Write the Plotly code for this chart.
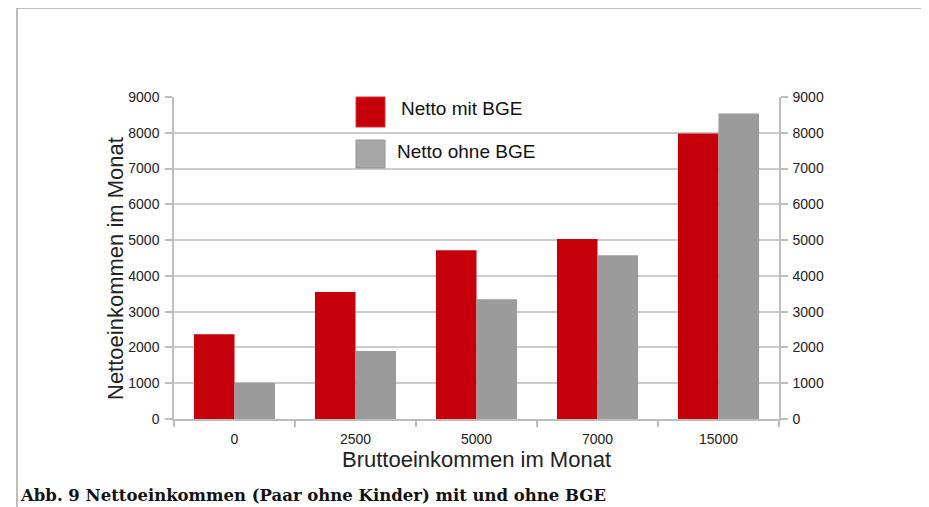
import plotly.graph_objects as go

categories = ["0", "2500", "5000", "7000", "15000"]
netto_mit_bge = [2370, 3550, 4720, 5030, 7980]
netto_ohne_bge = [1010, 1900, 3350, 4580, 8540]
y_ticks = [0, 1000, 2000, 3000, 4000, 5000, 6000, 7000, 8000, 9000]

RED = "#c5000b"
GRAY = "#9b9b9b"

OFF = 8  # page body margin
W, H = 929, 507
L, R, T, B = 174, 779, 97, 419  # plot area in screenshot pixels


def px(x):
    return (x - L) / (R - L)


def py(y):
    return (B - y) / (B - T)


fig = go.Figure()
fig.add_trace(go.Bar(x=categories, y=netto_mit_bge, name="Netto mit BGE",
                     marker=dict(color=RED, line=dict(width=0))))
fig.add_trace(go.Bar(x=categories, y=netto_ohne_bge, name="Netto ohne BGE",
                     marker=dict(color=GRAY, line=dict(width=0))))

tickfont = dict(family="Liberation Sans, Arial, sans-serif", size=14, color="#222222")
titlefont = dict(family="Liberation Sans, Arial, sans-serif", size=22, color="#222222")

fig.update_layout(
    width=W, height=H,
    margin=dict(l=L - OFF, r=W - R + OFF, t=T - OFF, b=H - B + OFF, pad=0),
    paper_bgcolor="white", plot_bgcolor="white",
    barmode="group", bargap=0.33, bargroupgap=0,
    showlegend=False,
    xaxis=dict(
        type="category", tickson="boundaries", ticks="outside", ticklen=6,
        tickcolor="#bdbdbd", tickwidth=1.5,
        showline=True, linecolor="#bdbdbd", linewidth=1.5,
        showgrid=False, tickfont=tickfont, ticklabelstandoff=6,
        title=dict(text="Bruttoeinkommen im Monat", standoff=4, font=titlefont),
    ),
    yaxis=dict(
        range=[0, 9000], tickvals=y_ticks, ticks="outside", ticklen=7,
        tickcolor="#bdbdbd", tickwidth=1.5,
        showline=True, linecolor="#bdbdbd", linewidth=1.5,
        showgrid=True, gridcolor="#cccccc", gridwidth=1.5,
        zeroline=False, tickfont=tickfont, ticklabelstandoff=3,
    ),
    yaxis2=dict(
        range=[0, 9000], tickvals=y_ticks, overlaying="y", side="right",
        ticks="outside", ticklen=7, tickcolor="#bdbdbd", tickwidth=1.5,
        showline=True, linecolor="#bdbdbd", linewidth=1.5,
        showgrid=False, zeroline=False, tickfont=tickfont, ticklabelstandoff=2,
    ),
)

# invisible trace to carry the right axis
fig.add_trace(go.Scatter(x=categories, y=netto_mit_bge, yaxis="y2", mode="markers",
                         marker=dict(opacity=0), hoverinfo="skip", showlegend=False))

# y axis title (slightly off-centre as in the original)
fig.add_annotation(xref="paper", yref="paper", x=px(115), y=py(269), text="Nettoeinkommen im Monat",
                   textangle=-90, showarrow=False, xanchor="center", yanchor="middle", font=titlefont)

# frame
fig.add_shape(type="line", xref="paper", yref="paper", x0=px(17), x1=px(945), y0=py(8), y1=py(8),
              line=dict(color="#a8a8a8", width=1.5))
fig.add_shape(type="line", xref="paper", yref="paper", x0=px(17), x1=px(17), y0=py(8), y1=py(520),
              line=dict(color="#a8a8a8", width=1.5))

# custom legend
fig.add_shape(type="rect", xref="paper", yref="paper", x0=px(356), x1=px(385), y0=py(127), y1=py(97),
              fillcolor=RED, line=dict(color="#e0303a", width=1))
fig.add_shape(type="rect", xref="paper", yref="paper", x0=px(356), x1=px(385), y0=py(168), y1=py(140),
              fillcolor="#a6a6a6", line=dict(color="#959595", width=1))
legfont = dict(family="Liberation Sans, Arial, sans-serif", size=19, color="#111111")
fig.add_annotation(xref="paper", yref="paper", x=px(399), y=py(109), text="Netto mit BGE",
                   showarrow=False, xanchor="left", yanchor="middle", font=legfont)
fig.add_annotation(xref="paper", yref="paper", x=px(395), y=py(151), text="Netto ohne BGE",
                   showarrow=False, xanchor="left", yanchor="middle", font=legfont)

# caption
fig.add_annotation(xref="paper", yref="paper", x=px(18), y=py(495),
                   text="<b>Abb. 9 Nettoeinkommen (Paar ohne Kinder) mit und ohne BGE</b>",
                   showarrow=False, xanchor="left", yanchor="middle",
                   font=dict(family="DejaVu Serif, serif", size=16.5, color="#111111"))

fig.write_html("out.html")
